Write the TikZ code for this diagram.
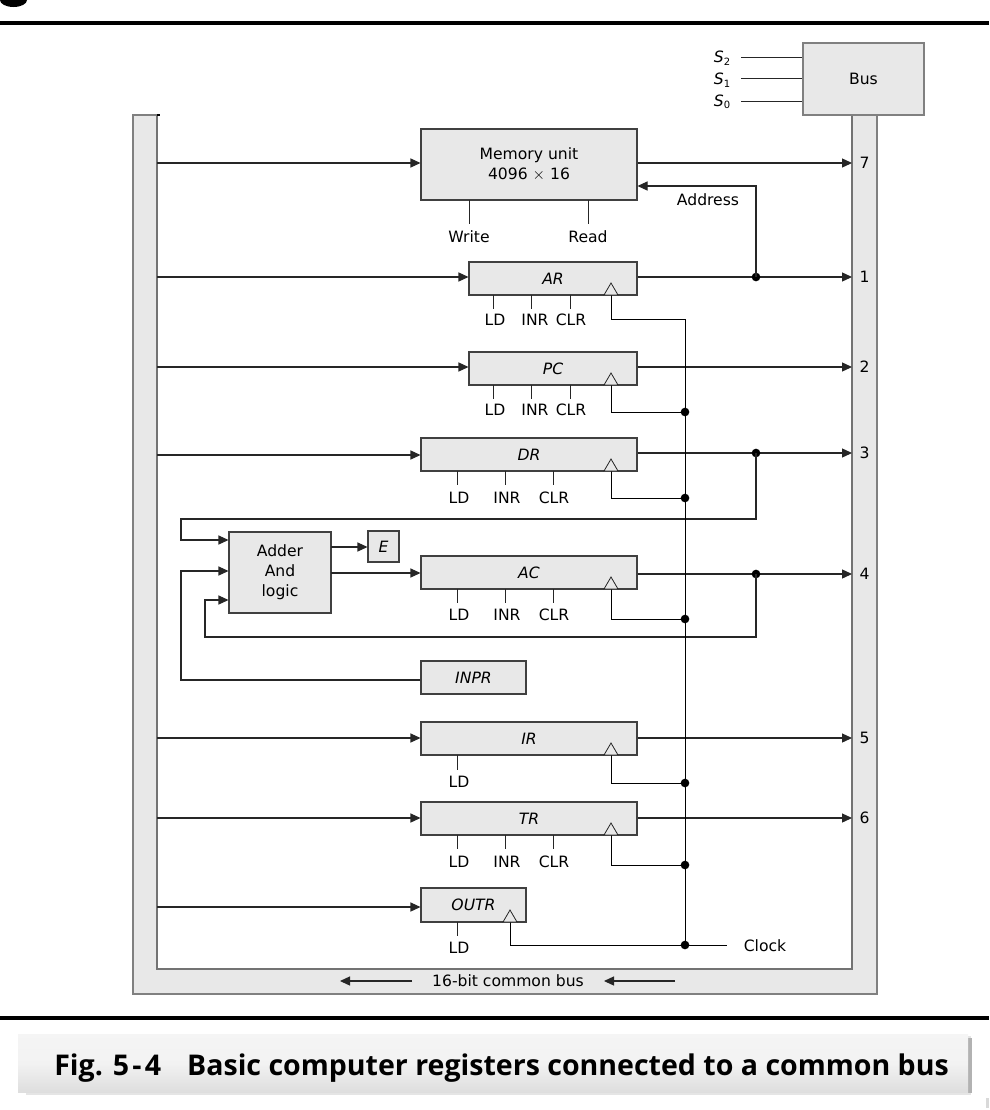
\documentclass[tikz,border=0pt]{standalone}
\usepackage{fontspec}
\setmainfont{DejaVu Sans}
\newfontfamily\capfont{Open Sans}
\usetikzlibrary{arrows.meta}
\def\u{0.75pt}
\tikzset{
  x=0.75pt,y=-0.75pt,
  every node/.style={font=\fontsize{11.7}{13}\selectfont,text=black,inner sep=0pt},
  box/.style={draw=black!75,line width=0.8pt,fill=black!9,align=center},
  wire/.style={draw=black!85,line width=0.8pt},
  arr/.style={wire,-{Triangle[length=7.5pt,width=6.8pt]}},
  dot/.style={circle,fill=black,minimum size=6.5pt},
  ctl/.style={draw=black!85,line width=0.7pt},
  ckw/.style={draw=black,line width=0.65pt},
  clk/.style={draw=black!85,fill=black!9,line width=0.6pt},
}
\newcommand{\regbox}[6]{\node[box,minimum width={(#4-#2)*\u},minimum height={(#5-#3)*\u}] (#1) at ({(#2+#4)/2},{(#3+#5)/2}) {#6};}
\newcommand{\clocktri}[2]{\draw[clk] (#1-7,#2) -- (#1,#2-12) -- (#1+7,#2) -- cycle;}
\begin{document}
\begin{tikzpicture}
\useasboundingbox (0,0) rectangle (989,1110);
% page rules
\fill[black] (0,0) -- (27,0) arc[start angle=0,end angle=-180,x radius=13.5,y radius=-7] -- cycle;
\fill[black] (0,21) rectangle (989,25);
\fill[black] (0,1016) rectangle (989,1020);
% common bus
\path[fill=black!9] (133,115) -- (157,115) -- (157,969) -- (852,969) -- (852,115) -- (877,115) -- (877,994) -- (133,994) -- cycle;
\draw[black!50,line width=0.8pt] (157,115) -- (133,115) -- (133,994) -- (877,994) -- (877,115);
\draw[black!55,line width=0.8pt] (157,115) -- (157,969) -- (852,969) -- (852,115);
\draw[black,line width=0.8pt] (157,115) -- (160,115);
% bus selector
\node[box,draw=black!50,minimum width={121*\u},minimum height={72*\u}] (bus) at (863.5,79) {Bus};
\node (s2) at (722,58) {\itshape S\raisebox{-0.3ex}{\fontsize{7.5}{8}\selectfont\upshape 2}};
\node (s1) at (722,80) {\itshape S\raisebox{-0.3ex}{\fontsize{7.5}{8}\selectfont\upshape 1}};
\node (s0) at (722,102) {\itshape S\raisebox{-0.3ex}{\fontsize{7.5}{8}\selectfont\upshape 0}};
\coordinate (s2e) at (741,57);
\coordinate (s1e) at (741,78.5);
\coordinate (s0e) at (741,101);
\draw[ctl] (s2e) -- (bus.west |- s2e);
\draw[ctl] (s1e) -- (bus.west |- s1e);
\draw[ctl] (s0e) -- (bus.west |- s0e);
% registers
\regbox{mem}{421}{129}{637}{200}{Memory unit\\[2pt]4096 $\times$ 16}
\regbox{ar}{469}{262}{637}{295}{\itshape AR}
\regbox{pc}{469}{352}{637}{385}{\itshape PC}
\regbox{dr}{421}{438}{637}{471}{\itshape DR}
\regbox{ac}{421}{556}{637}{589}{\itshape AC}
\regbox{inpr}{421}{661}{526}{694}{\itshape INPR}
\regbox{ir}{421}{722}{637}{755}{\itshape IR}
\regbox{tr}{421}{802}{637}{835}{\itshape TR}
\regbox{outr}{421}{888}{526}{922}{\itshape OUTR}
\regbox{add}{229}{532}{331}{613}{Adder\\[2pt]And\\[2pt]logic}
\regbox{e}{368}{531}{399}{562}{\itshape E}
% bus outputs labels
\foreach \nm/\lab/\yy in {n7/7/163,n1/1/277,n2/2/367,n3/3/453,n4/4/574,n5/5/738,n6/6/818}
  \node (\nm) at (864.5,\yy) {\lab};
% bus taps
\foreach \nm/\yy in {t7/163,t1/277,t2/367,t3/455,t5/738,t6/818,t8/907}
  \coordinate (\nm) at (157,\yy);
\draw[arr] (t7) -- (mem.west |- t7);
\draw[arr] (t1) -- (ar.west |- t1);
\draw[arr] (t2) -- (pc.west |- t2);
\draw[arr] (t3) -- (dr.west |- t3);
\draw[arr] (t5) -- (ir.west |- t5);
\draw[arr] (t6) -- (tr.west |- t6);
\draw[arr] (t8) -- (outr.west |- t8);
% outputs
\foreach \nm/\yy in {o7/163,o1/277,o2/367,o3/453,o4/574,o5/738,o6/818}
  \coordinate (\nm) at (852,\yy);
\draw[arr] (mem.east |- o7) -- (o7);
\draw[arr] (ar.east |- o1) -- (o1);
\draw[arr] (pc.east |- o2) -- (o2);
\draw[arr] (dr.east |- o3) -- (o3);
\draw[arr] (ac.east |- o4) -- (o4);
\draw[arr] (ir.east |- o5) -- (o5);
\draw[arr] (tr.east |- o6) -- (o6);
% junctions
\node[dot] (j1) at (756,277) {};
\node[dot] (j3) at (756,453) {};
\node[dot] (j4) at (756,574) {};
% address
\coordinate (addr) at (756,186);
\draw[arr] (j1.center) -- (addr) -- (mem.east |- addr);
\node (addrl) at (708,200) {Address};
% ALU feedback
\coordinate (fb1) at (756,519);
\coordinate (fb2) at (181,519);
\coordinate (fb3) at (181,540);
\draw[arr] (j3.center) -- (fb1) -- (fb2) -- (fb3) -- (add.west |- fb3);
\coordinate (fc1) at (756,637);
\coordinate (fc2) at (205,637);
\coordinate (fc3) at (205,600);
\draw[arr] (j4.center) -- (fc1) -- (fc2) -- (fc3) -- (add.west |- fc3);
\coordinate (ip1) at (181,680);
\coordinate (ip2) at (181,571);
\draw[arr] (inpr.west |- ip1) -- (ip1) -- (ip2) -- (add.west |- ip2);
\coordinate (ae) at (331,547);
\draw[arr] (ae) -- (e.west |- ae);
\coordinate (aac) at (331,573);
\draw[arr] (aac) -- (ac.west |- aac);
% memory controls
\node (write) at (469,237) {Write};
\node (read) at (588,237) {Read};
\draw[ctl] (469,200) -- (469,224);
\draw[ctl] (588,200) -- (588,224);
% control labels
\foreach \xa/\xb/\xc/\ya/\yb/\yt/\ln in {493/531/570/295/309/320/ar,493/531/570/385/399/410/pc}{
  \draw[ctl] (\xa,\ya) -- (\xa,\yb) (\xb,\ya) -- (\xb,\yb) (\xc,\ya) -- (\xc,\yb);
  \node (ld\ln) at (\xa+2,\yt) {LD};
  \node (inr\ln) at (\xb+4,\yt) {INR};
  \node (clr\ln) at (\xc+1,\yt) {CLR};
}
\foreach \xa/\xb/\xc/\ya/\yb/\yt/\ln in {457/505/553/471/485/498/dr,457/505/553/589/603/615/ac,457/505/553/835/849/862/tr}{
  \draw[ctl] (\xa,\ya) -- (\xa,\yb) (\xb,\ya) -- (\xb,\yb) (\xc,\ya) -- (\xc,\yb);
  \node (ld\ln) at (\xa+2,\yt) {LD};
  \node (inr\ln) at (\xb+2,\yt) {INR};
  \node (clr\ln) at (\xc+1,\yt) {CLR};
}
\draw[ctl] (457,755) -- (457,770);
\node (ldir) at (459,782) {LD};
\draw[ctl] (457,922) -- (457,936);
\node (ldoutr) at (459,948) {LD};
% clock
\node[dot] (ck0) at (685,945) {};
\node[dot] (ck2) at (685,412) {};
\node[dot] (ck3) at (685,498) {};
\node[dot] (ck4) at (685,619) {};
\node[dot] (ck5) at (685,783) {};
\node[dot] (ck6) at (685,865) {};
\node (clock) at (765,946) {Clock};
\coordinate (ck1) at (685,319);
\draw[ckw] (ck1) -- (ck0.center);
\draw[ckw] (ck0.center) -- (727,945);
\draw[ckw] (611,295) -- (611,319) -- (ck1);
\draw[ckw] (611,385) -- (611,412) -- (ck2.center);
\draw[ckw] (611,471) -- (611,498) -- (ck3.center);
\draw[ckw] (611,589) -- (611,619) -- (ck4.center);
\draw[ckw] (611,755) -- (611,783) -- (ck5.center);
\draw[ckw] (611,835) -- (611,865) -- (ck6.center);
\draw[ckw] (510,922) -- (510,945) -- (ck0.center);
\clocktri{611}{295}
\clocktri{611}{385}
\clocktri{611}{471}
\clocktri{611}{589}
\clocktri{611}{755}
\clocktri{611}{835}
\clocktri{510}{922}
% bus label
\node (buslab) at (508,981) {16-bit common bus};
\coordinate (ba) at (412,981);
\coordinate (bb) at (340,981);
\coordinate (bc) at (675,981);
\coordinate (bd) at (604,981);
\draw[arr] (ba) -- (bb);
\draw[arr] (bc) -- (bd);
% caption
\fill[black!10] (26,1036) rectangle (971,1095);
\fill[black!30] (966,1038) rectangle (972,1093);
\shade[top color=black!4,bottom color=black!13,middle color=black!5] (18,1034) rectangle (968,1092);
\node[anchor=west,font=\capfont\bfseries\fontsize{21.4}{26}\selectfont] (cap) at (54,1068) {Fig. 5\kern2.5pt-\kern2.5pt4\hspace{19.5pt}Basic computer registers connected to a common bus};
\fill[black!15] (986,1098) rectangle (989,1108);
\end{tikzpicture}
\end{document}
